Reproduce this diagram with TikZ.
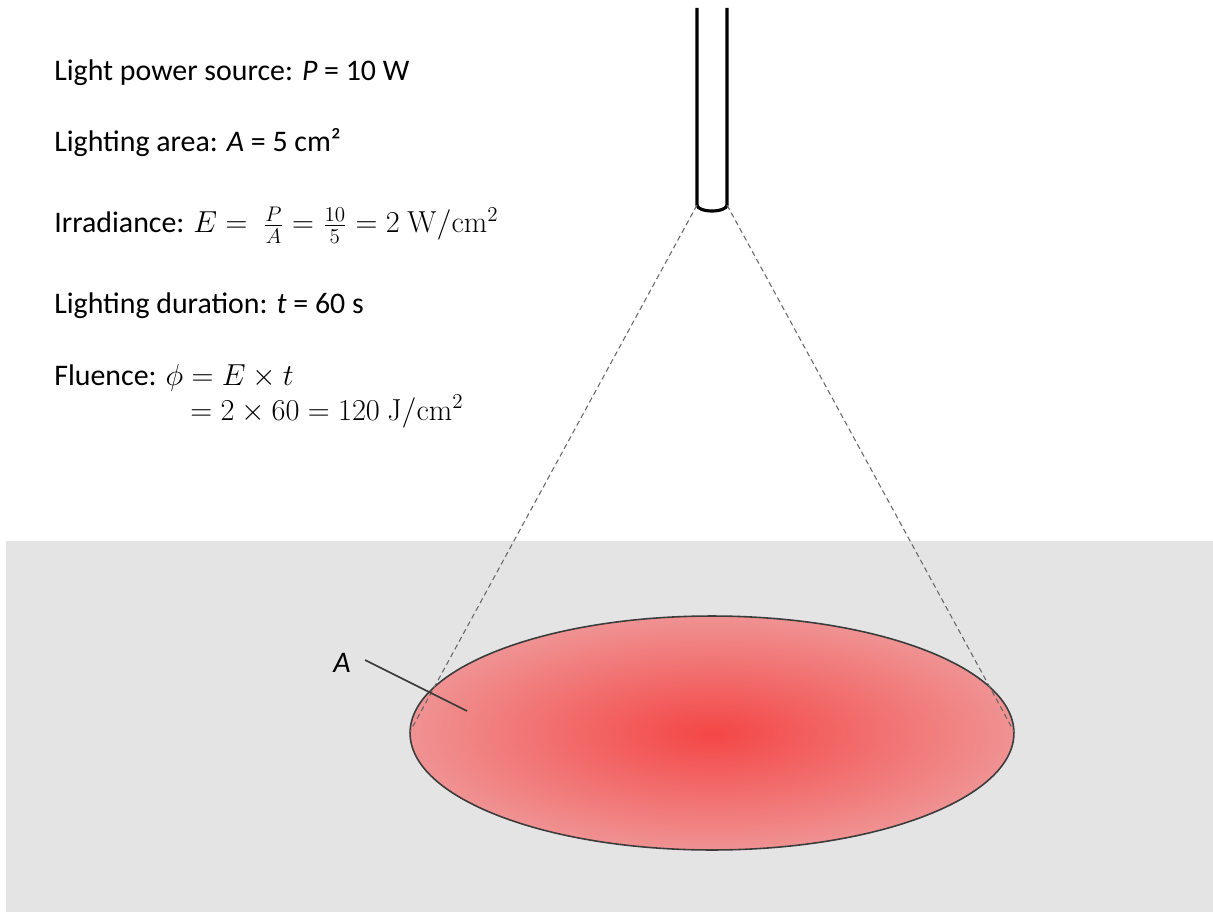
\documentclass[tikz,border=0pt]{standalone}
\usepackage[no-math]{fontspec}
\setmainfont{Carlito}
\usetikzlibrary{positioning, shapes.geometric}
\definecolor{tissuegray}{RGB}{228,228,228}
\definecolor{spotcore}{RGB}{244,70,70}
\definecolor{spotrim}{RGB}{240,146,146}
\definecolor{rimline}{RGB}{60,60,60}
\newcommand{\eqsize}{\fontsize{18.6}{22}\selectfont}
\tikzset{
    infotext/.style={anchor=base west, inner sep=0pt, font=\fontsize{17}{20}\selectfont},
    fiberwall/.style={line width=1.8pt, black},
    beam/.style={dashed, dash pattern=on 3pt off 2pt, gray!80!black, line width=0.6pt},
    spotstyle/.style={ellipse, draw=rimline, line width=0.9pt, inner color=spotcore, outer color=spotrim, minimum width=12.08cm, minimum height=4.68cm, inner sep=0pt},
    leader/.style={rimline, line width=0.9pt},
    arealbl/.style={font=\fontsize{17}{20}\selectfont\itshape, inner sep=1pt}
}
\begin{document}
\begin{tikzpicture}[x=0.02cm, y=-0.02cm]
    \useasboundingbox (0,0) rectangle (1213,912);
    % Tissue
    \fill[tissuegray] (6,541) rectangle (1213,912);

    % Text block
    \node[infotext] (power) at (54,81) {Light power source: \textit{P} = 10 W};
    \node[infotext] (area) at (54,152) {Lighting area: \textit{A} = 5 cm²};
    \node[infotext] (irr) at (54,233) {Irradiance: {\eqsize$E =\ \frac{P}{A} = \frac{10}{5} = 2\ \mathrm{W/cm^2}$}};
    \node[infotext] (dur) at (54,313) {Lighting duration: \textit{t} = 60 s};
    \node[infotext] (flu) at (54,385) {Fluence: {\eqsize$\phi = E \times t$}};
    \node[infotext] (flu2) at (190,420) {\eqsize$= 2 \times 60 = 120\ \mathrm{J/cm^2}$};

    % Fiber
    \coordinate (fibL) at (697,205);
    \coordinate (fibR) at (727,205);
    \draw[fiberwall] (697,8) -- (fibL) arc[start angle=180, end angle=360, x radius=15, y radius=-6] -- (727,8);

    % Light spot
    \node[spotstyle] (spot) at (712,733) {};
    \draw[beam] (fibL) -- (spot.west);
    \draw[beam] (fibR) -- (spot.east);

    % Label
    \node[arealbl] (alab) at (342,663) {A};
    \coordinate (apt) at (467,711);
    \draw[leader] (365,660) -- (apt);
\end{tikzpicture}
\end{document}
